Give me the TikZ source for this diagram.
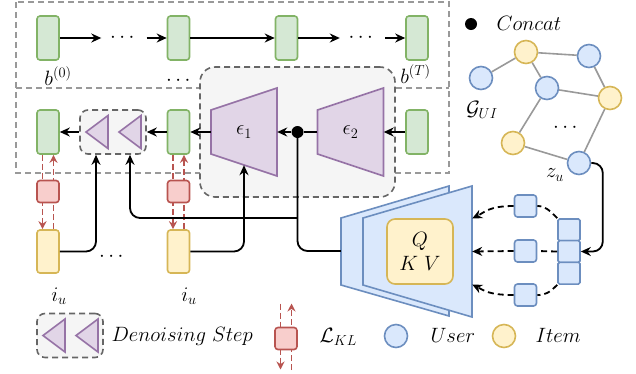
\documentclass[tikz,border=0pt]{standalone}
\usepackage{amsmath}
\usepackage{xcolor}
\usepackage{tikz}
\usetikzlibrary{calc,arrows.meta}
\definecolor{embfill}{HTML}{D5E8D4}
\definecolor{embdraw}{HTML}{82B366}
\definecolor{itmfill}{HTML}{FFF2CC}
\definecolor{itmdraw}{HTML}{D6B656}
\definecolor{klfill}{HTML}{F8CECC}
\definecolor{kldraw}{HTML}{B85450}
\definecolor{prpfill}{HTML}{E1D5E7}
\definecolor{prpdraw}{HTML}{9673A6}
\definecolor{usrfill}{HTML}{DAE8FC}
\definecolor{usrdraw}{HTML}{6C8EBF}
\definecolor{boxfill}{HTML}{F5F5F5}
\definecolor{boxdraw}{HTML}{666666}
\definecolor{frmgray}{HTML}{999999}
\tikzset{
  emb/.style={rectangle, rounded corners=3pt, fill=embfill, draw=embdraw, line width=1.6pt, minimum width=22pt, minimum height=44pt, inner sep=0pt},
  itm/.style={emb, fill=itmfill, draw=itmdraw, minimum height=43pt},
  klsq/.style={emb, fill=klfill, draw=kldraw, minimum height=22pt},
  usq/.style={emb, fill=usrfill, draw=usrdraw, minimum height=22pt},
  cell/.style={usq, rounded corners=1.5pt, minimum height=21.7pt},
  usr/.style={circle, fill=usrfill, draw=usrdraw, line width=1.6pt, minimum size=23pt, inner sep=0pt},
  itmc/.style={usr, fill=itmfill, draw=itmdraw},
  stepbox/.style={rectangle, rounded corners=8pt, fill=boxfill, draw=boxdraw, line width=1.6pt, dash pattern=on 6pt off 4pt, minimum width=66pt, minimum height=44pt},
  outerbox/.style={draw=frmgray, line width=1.6pt, dash pattern=on 6pt off 4pt},
  tri/.style={fill=prpfill, draw=prpdraw, line width=1.6pt},
  enc/.style={fill=usrfill, draw=usrdraw, line width=1.6pt},
  qkv/.style={rectangle, rounded corners=8pt, fill=itmfill, draw=itmdraw, line width=1.6pt, minimum width=66pt, minimum height=65pt, inner sep=0pt, align=center},
  hole/.style={rectangle, inner sep=0pt},
  cdot/.style={circle, fill=black, inner sep=0pt, minimum size=12pt},
  wire/.style={draw=black, line width=1.8pt},
  arr/.style={wire, -{Stealth[length=10pt,width=9pt]}},
  qwire/.style={wire, dash pattern=on 6pt off 4pt},
  qarr/.style={qwire, -{Stealth[length=10pt,width=9pt]}},
  klline/.style={draw=kldraw, line width=1.6pt, dash pattern=on 6pt off 3pt, -{Stealth[length=8pt,width=8pt]}},
  glink/.style={draw=frmgray, line width=1.6pt},
  dotsnode/.style={inner sep=0pt, minimum width=45pt},
}
\begin{document}
\begin{tikzpicture}[x=1pt,y=-1pt,font=\fontsize{20}{24}\selectfont]
  \useasboundingbox (0,0) rectangle (636,373);
  \draw[outerbox] (16,2) rectangle (449,173);
  \draw[outerbox] (16,88) -- (449,88);
  \node[stepbox, rounded corners=15pt, minimum width=195pt, minimum height=130pt] (net) at (297.5,132) {};

  \node[emb] (gb0) at (48,38) {};
  \node[dotsnode] (dA) at (124,38) {$\cdots$};
  \node[emb] (gb1) at (178.5,38) {};
  \node[emb] (gb2) at (286.5,38) {};
  \node[dotsnode] (dB) at (362.5,38) {$\cdots$};
  \node[emb] (gbT) at (417,38) {};
  \node (lb0) at (58,76) {$b^{(0)}$};
  \node (dC) at (180,81) {$\cdots$};
  \node (lbT) at (415.5,74) {$b^{(T)}$};
  \draw[arr] (gb0) -- (dA);
  \draw[arr] (dA) -- (gb1);
  \draw[arr] (gb1) -- (gb2);
  \draw[arr] (gb2) -- (dB);
  \draw[arr] (dB) -- (gbT);

  \foreach \cx in {244,350.5}
    \draw[tri] (\cx-33,110) -- (\cx+33,88) -- (\cx+33,176) -- (\cx-33,154) -- cycle;
  \node[hole, minimum width=66pt, minimum height=88pt] (e1) at (244,132) {$\epsilon_1$};
  \node[hole, minimum width=66pt, minimum height=88pt] (e2) at (350.5,132) {$\epsilon_2$};
  \coordinate (e1b) at ($(e1.south)+(0,-11)$);
  \node[cdot] (dot) at (297.5,132) {};
  \coordinate (fork) at (dot |- 0,218);

  \node[emb] (g1) at (48,132) {};
  \node[stepbox] (den) at (113,132) {};
  \node[emb] (g2) at (178.5,132) {};
  \node[emb] (g3) at (417,132) {};
  \node[stepbox] (leg) at (70,335.5) {};
  \foreach \bx in {den,leg} {
    \draw[tri] ($(\bx.center)+(-27,0)$) -- ++(22,-16.5) -- ++(0,33) -- cycle;
    \draw[tri] ($(\bx.center)+(6,0)$) -- ++(22,-16.5) -- ++(0,33) -- cycle;
  }
  \draw[arr] (g3) -- (e2.east);
  \draw[wire] (e2.west) -- (dot);
  \draw[arr] (dot) -- (e1.east);
  \draw[arr] (e1.west) -- (g2);
  \draw[arr] (g2) -- (den);
  \draw[arr] (den) -- (g1);

  \node[itm] (y1) at (48,251.5) {};
  \node[itm] (y2) at (178.5,251.5) {};
  \node (dD) at (113,257) {$\cdots$};
  \node (liu1) at (59,296) {$i_u$};
  \node (liu2) at (189,296) {$i_u$};
  \foreach \g/\y in {g1/y1,g2/y2} {
    \draw[klline] ($(\g.south)+(-5.5,0)$) -- ($(\y.north)+(-5.5,0)$);
    \draw[klline] ($(\y.north)+(5.5,0)$) -- ($(\g.south)+(5.5,0)$);
  }
  \node[klsq] (r1) at (48,191.5) {};
  \node[klsq] (r2) at (178.5,191.5) {};

  \draw[enc] (341,218) -- (449,186) -- (449,316) -- (341,285) -- cycle;
  \draw[enc] (363,218) -- (472,186) -- (472,317) -- (363,285) -- cycle;
  \node[hole, minimum width=108pt, minimum height=130pt] (encb) at (395,251) {};
  \node[hole, minimum width=109pt, minimum height=131pt] (encf) at (417.5,251.5) {};
  \node[qkv] (qk) at (420,251.5) {$Q$\\$K\ V$};
  \coordinate (etop) at ($(encf.east)+(0,-33)$);
  \coordinate (ebot) at ($(encf.east)+(0,33)$);

  \draw[arr, rounded corners=10pt] (y1.east) -| ($(den.south)+(-17,0)$);
  \draw[arr, rounded corners=10pt] (y2.east) -| (e1b);
  \draw[wire, rounded corners=10pt] (dot) |- (encb.west);
  \draw[arr, rounded corners=10pt] (fork) -| ($(den.south)+(17,0)$);

  \node[usq] (s1) at (525.5,206) {};
  \node[usq] (s2) at (525.5,251) {};
  \node[usq] (s3) at (525.5,295) {};
  \node[cell] (k1) at (569,229.8) {};
  \node[cell] (k2) at (569,251.5) {};
  \node[cell] (k3) at (569,273.2) {};
  \draw[qwire] (k1.north west) .. controls +(-8,-8) and +(8,0) .. (s1.east);
  \draw[qarr] (s1.west) .. controls +(-25,0) and +(12,-6) .. (etop);
  \draw[qwire] (k2.west) -- (s2.east);
  \draw[qarr] (s2.west) -- (encf.east);
  \draw[qwire] (k3.south west) .. controls +(-8,8) and +(8,0) .. (s3.east);
  \draw[qarr] (s3.west) .. controls +(-25,0) and +(12,6) .. (ebot);

  \node[itmc] (i1) at (526,52) {};
  \node[usr] (u1) at (589,56) {};
  \node[usr] (u2) at (481,78) {};
  \node[usr] (u3) at (547,88) {};
  \node[itmc] (i2) at (610,98) {};
  \node[itmc] (i3) at (513,143) {};
  \node[usr] (zu) at (579,163) {};
  \draw[glink] (u2) -- (i1);
  \draw[glink] (i1) -- (u1);
  \draw[glink] (i1) -- (u3);
  \draw[glink] (u3) -- (i2);
  \draw[glink] (u1) -- (i2);
  \draw[glink] (u3) -- (i3);
  \draw[glink] (i3) -- (zu);
  \draw[glink] (i2) -- (zu);
  \node (dE) at (567,128) {$\cdots$};
  \node (lgui) at (482,110) {$\mathcal{G}_{UI}$};
  \node (lzu) at (555,175) {$z_u$};
  \draw[arr, rounded corners=10pt] (zu.east) -| ($(k2.east)+(22,0)$) -- (k2.east);

  \node[cdot] (cat) at (471,24) {};
  \node[anchor=west] (lcat) at (493,23) {$Concat$};
  \node[anchor=west] (lden) at (108,336) {$Denoising\ Step$};
  \draw[klline] (280.5,303.5) -- (280.5,369.5);
  \draw[klline] (291.5,370) -- (291.5,303.5);
  \node[klsq] (rl) at (286,338.5) {};
  \node[anchor=west] (lkl) at (316,337) {$\mathcal{L}_{KL}$};
  \node[usr] (cu) at (396,336) {};
  \node[anchor=west] (lusr) at (427,335) {$User$};
  \node[itmc] (ci) at (504,336) {};
  \node[anchor=west] (litm) at (532,335) {$Item$};
\end{tikzpicture}
\end{document}
